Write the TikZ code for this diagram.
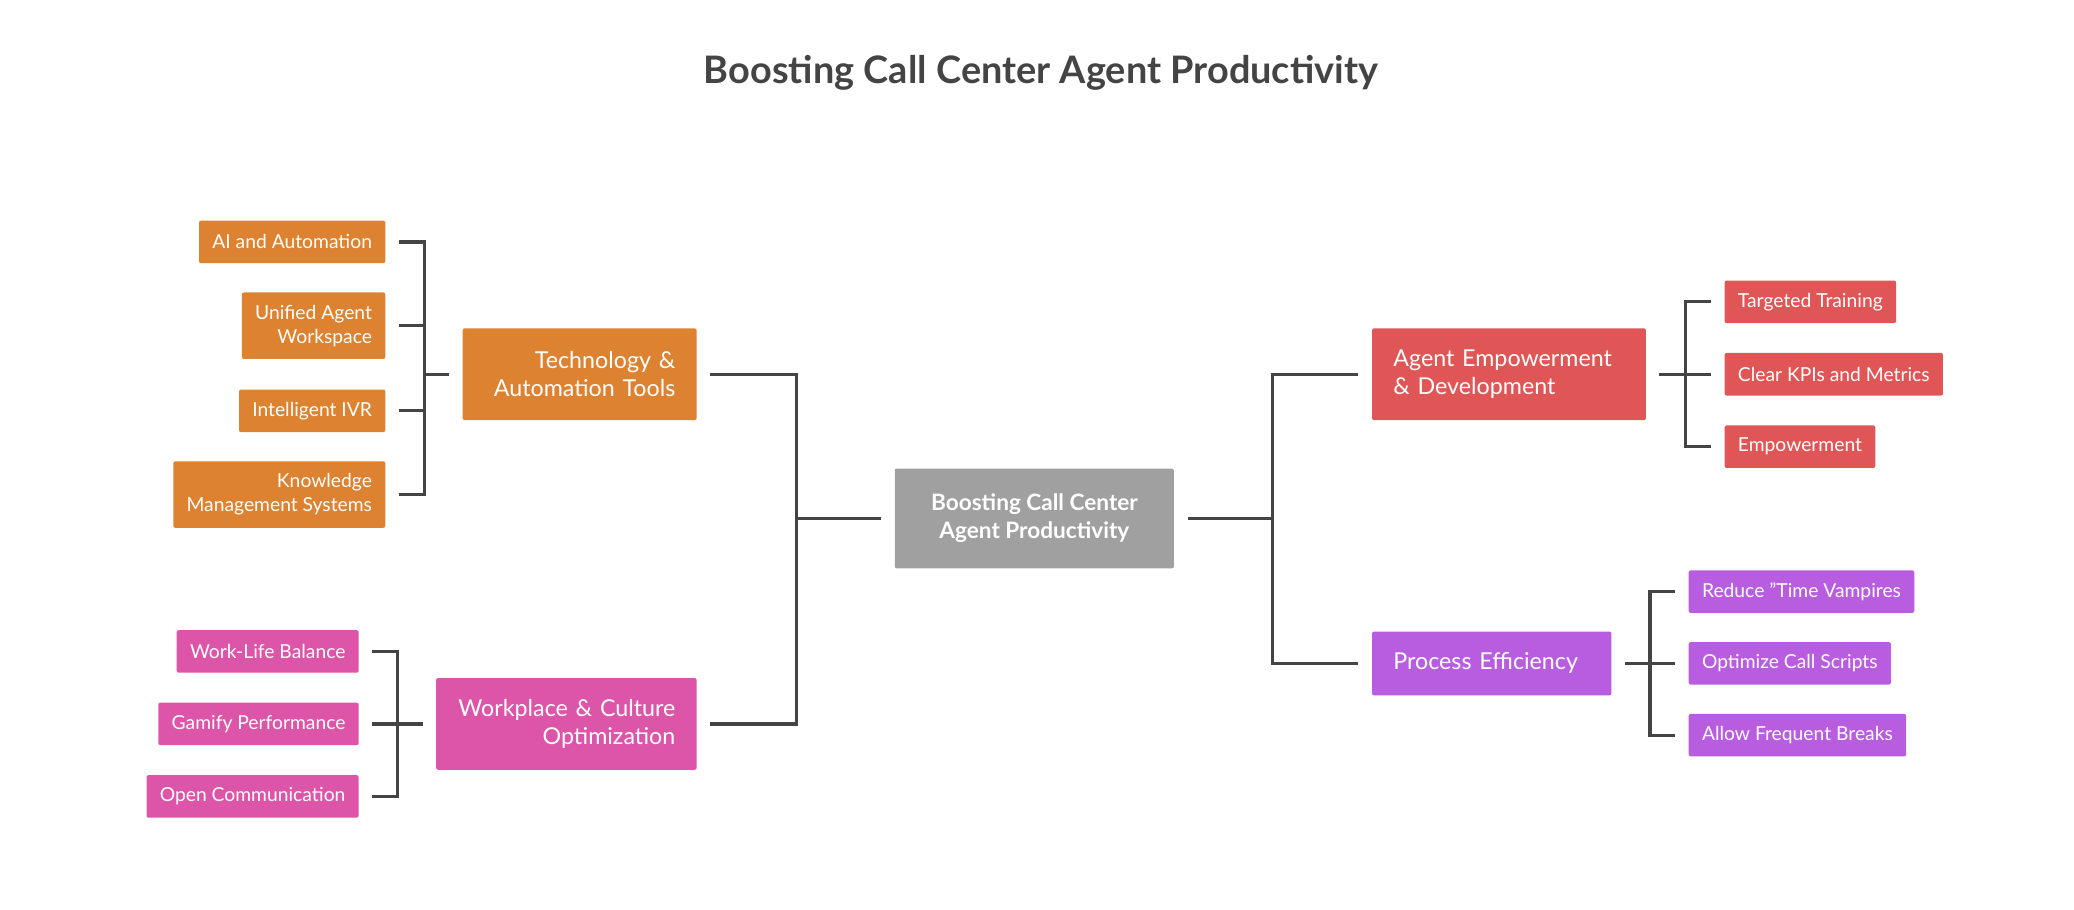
\documentclass[tikz,border=0pt]{standalone}
\usepackage{fontspec}
\setmainfont{Lato}
\usetikzlibrary{positioning}
\definecolor{orangeT}{HTML}{DD8230}
\definecolor{pinkW}{HTML}{DD55A8}
\definecolor{redA}{HTML}{E05555}
\definecolor{purpleP}{HTML}{B85CE0}
\definecolor{grayC}{HTML}{A0A0A0}
\definecolor{lineC}{HTML}{444444}
\begin{document}
\begin{tikzpicture}[x=1pt,y=-1pt,
box/.style={rectangle, rounded corners=1.5pt, text=white, font=\fontsize{14.5}{18}\selectfont, inner xsep=10pt, inner ysep=0pt, minimum height=32pt},
leftleaf/.style={box, anchor=east, align=right},
rightleaf/.style={box, anchor=west, align=left},
branch/.style={box, font=\fontsize{17.5}{21}\selectfont, inner xsep=16pt, minimum height=69pt},
conn/.style={draw=lineC, line width=2.4pt},
]
\useasboundingbox (0,0) rectangle (1560,684);
\node (title) at (783,55) {\fontsize{28.5}{32}\selectfont\bfseries\color[HTML]{444444}Boosting Call Center Agent Productivity};
% centre
\node (root) [box, fill=grayC, minimum width=210pt, minimum height=75pt, align=center, font=\fontsize{17}{21}\selectfont\bfseries] at (778,390) {Boosting Call Center\\Agent Productivity};
% branches
\node (tech) [branch, fill=orangeT, text width=144pt, align=right] at (436,281.5) {Technology \&\\Automation Tools};
\node (work) [branch, fill=pinkW, text width=164pt, align=right] at (426,544.5) {Workplace \& Culture\\Optimization};
\node (agent) [branch, fill=redA, text width=174pt, align=left] at (1135,281.5) {Agent Empowerment\\\& Development};
\node (proc) [branch, fill=purpleP, text width=148pt, align=left, minimum height=48pt] at (1122,499) {Process Efficiency};
% leaves left
\node (ai) [leftleaf, fill=orangeT] at (290,182) {AI and Automation};
\node (uni) [leftleaf, fill=orangeT, minimum height=50pt] at (290,245) {Unified Agent\\Workspace};
\node (ivr) [leftleaf, fill=orangeT] at (290,309) {Intelligent IVR};
\node (kms) [leftleaf, fill=orangeT, minimum height=50pt] at (290,372) {Knowledge\\Management Systems};
\node (wlb) [leftleaf, fill=pinkW] at (270,490) {Work-Life Balance};
\node (gam) [leftleaf, fill=pinkW] at (270,544.5) {Gamify Performance};
\node (opc) [leftleaf, fill=pinkW] at (270,599) {Open Communication};
% leaves right
\node (trn) [rightleaf, fill=redA] at (1297,227) {Targeted Training};
\node (kpi) [rightleaf, fill=redA] at (1297,281.5) {Clear KPIs and Metrics};
\node (emp) [rightleaf, fill=redA] at (1297,336) {Empowerment};
\node (vam) [rightleaf, fill=purpleP] at (1270,445) {Reduce "Time Vampires};
\node (scr) [rightleaf, fill=purpleP] at (1270,499) {Optimize Call Scripts};
\node (brk) [rightleaf, fill=purpleP] at (1270,553) {Allow Frequent Breaks};
% joints
\coordinate (jt) at (319,281.5);
\coordinate (jw) at (299,544.5);
\coordinate (ja) at (1268,281.5);
\coordinate (jp) at (1241,499);
\coordinate (jl) at (599,390);
\coordinate (jr) at (957,390);
\foreach \n in {ai,uni,ivr,kms}
  \draw[conn] ([xshift=10]\n.east) -| (jt);
\draw[conn] (jt) -- ([xshift=-10]tech.west);
\foreach \n in {wlb,gam,opc}
  \draw[conn] ([xshift=10]\n.east) -| (jw);
\draw[conn] (jw) -- ([xshift=-10]work.west);
\foreach \n in {trn,kpi,emp}
  \draw[conn] ([xshift=-10]\n.west) -| (ja);
\draw[conn] (ja) -- ([xshift=10]agent.east);
\foreach \n in {vam,scr,brk}
  \draw[conn] ([xshift=-10]\n.west) -| (jp);
\draw[conn] (jp) -- ([xshift=10]proc.east);
\foreach \n in {tech,work}
  \draw[conn] ([xshift=10]\n.east) -| (jl);
\draw[conn] (jl) -- ([xshift=-10]root.west);
\foreach \n in {agent,proc}
  \draw[conn] ([xshift=-10]\n.west) -| (jr);
\draw[conn] (jr) -- ([xshift=10]root.east);
\end{tikzpicture}
\end{document}
